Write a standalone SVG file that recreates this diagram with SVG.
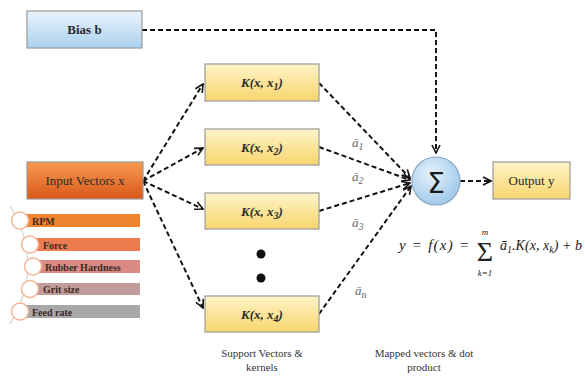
<svg xmlns="http://www.w3.org/2000/svg" width="585" height="376" viewBox="0 0 585 376">
  <defs>
    <linearGradient id="gBlue" x1="0" y1="0" x2="0" y2="1">
      <stop offset="0" stop-color="#eaf4fc"/>
      <stop offset="1" stop-color="#a9d1ef"/>
    </linearGradient>
    <linearGradient id="gOrange" x1="0" y1="0" x2="0" y2="1">
      <stop offset="0" stop-color="#f79a4f"/>
      <stop offset="1" stop-color="#d9581a"/>
    </linearGradient>
    <linearGradient id="gYellow" x1="0" y1="0" x2="0" y2="1">
      <stop offset="0" stop-color="#fff4c8"/>
      <stop offset="1" stop-color="#f8d56e"/>
    </linearGradient>
    <radialGradient id="gSum" cx="0.4" cy="0.35" r="0.7">
      <stop offset="0" stop-color="#e6f2fb"/>
      <stop offset="1" stop-color="#9cc7ea"/>
    </radialGradient>
    <marker id="arr" viewBox="0 0 10 10" refX="9" refY="5" markerWidth="10" markerHeight="10" markerUnits="userSpaceOnUse" orient="auto">
      <path d="M1,1 L9,5 L1,9" fill="none" stroke="#111" stroke-width="1.6"/>
    </marker>
  </defs>
  <style>
    text { font-family: "Liberation Serif", Tinos, "Times New Roman", "DejaVu Serif", "Noto Serif", serif; }
    .box { stroke: #9a9a9a; stroke-width: 1.2; }
    .lbl { font-size: 13px; fill: #2a2a2a; }
    .kern { font-size: 13px; font-weight: bold; font-style: italic; fill: #2a2a2a; }
    .bar { font-size: 10px; font-weight: bold; fill: #3b2a1f; }
    .dash { fill: none; stroke: #111; stroke-width: 2; stroke-dasharray: 5 3; marker-end: url(#arr); }
    .alpha { font-size: 13px; font-style: italic; fill: #666; }
    .math { font-style: italic; fill: #222; }
    .cap { font-size: 11px; fill: #333; }
    .dot { stroke: #c9c9c9; stroke-width: 1; }
    .ring { fill: #fff; stroke: #f2b596; stroke-width: 1.5; }
  </style>

  <!-- connectors -->
  <g id="connectors">
    <path class="dash" d="M142,30 H436 V153"/>
    <path class="dash" d="M143,181 L203,84"/>
    <path class="dash" d="M143,181 L203,148"/>
    <path class="dash" d="M143,181 L203,209"/>
    <path class="dash" d="M143,181 L203,308"/>
    <path class="dash" d="M319,83 L410,178"/>
    <path class="dash" d="M319,147 L410,180"/>
    <path class="dash" d="M319,211 L410,183"/>
    <path class="dash" d="M319,314 L411,186"/>
    <path class="dash" d="M460,181 L491,181"/>
  </g>

  <!-- weight labels -->
  <g id="weights">
    <text class="alpha" x="352" y="147">ā<tspan font-size="10" dy="3">1</tspan></text>
    <text class="alpha" x="352" y="181">ā<tspan font-size="10" dy="3">2</tspan></text>
    <text class="alpha" x="352" y="227">ā<tspan font-size="10" dy="3">3</tspan></text>
    <text class="alpha" x="355" y="295">ā<tspan font-size="10" font-style="normal" dy="3">n</tspan></text>
  </g>

  <g id="bias">
    <rect class="box" x="27" y="11" width="115" height="37" fill="url(#gBlue)"/>
    <text class="lbl" x="84.5" y="34" text-anchor="middle" font-weight="bold" fill="#1f2a3a">Bias b</text>
  </g>

  <g id="input">
    <rect class="box" x="27" y="162" width="116" height="37" fill="url(#gOrange)"/>
    <text class="lbl" x="85" y="185" text-anchor="middle" fill="#3a2010">Input Vectors x</text>
  </g>

  <g id="features">
    <path d="M10,206 Q46,265 10,324" fill="none" class="dot"/>
    <rect x="20" y="214" width="120" height="13" fill="#f0832e"/>
    <rect x="30" y="238" width="110" height="13" fill="#ec7b50"/>
    <rect x="33" y="260" width="107" height="13" fill="#d98a84"/>
    <rect x="30" y="283" width="110" height="12" fill="#c29b9b"/>
    <rect x="20" y="305" width="120" height="13" fill="#a8a8a8"/>
    <circle class="ring" cx="20" cy="220.5" r="8.5"/>
    <circle class="ring" cx="30" cy="244.5" r="8.5"/>
    <circle class="ring" cx="33" cy="266.5" r="8.5"/>
    <circle class="ring" cx="30" cy="289" r="8.5"/>
    <circle class="ring" cx="20" cy="311.5" r="8.5"/>
    <text class="bar" x="32" y="224.5">RPM</text>
    <text class="bar" x="43" y="248.5">Force</text>
    <text class="bar" x="45" y="270.5">Rubber Hardness</text>
    <text class="bar" x="43" y="292.5">Grit size</text>
    <text class="bar" x="32" y="315.5">Feed rate</text>
  </g>

  <g id="k1">
    <rect class="box" x="205" y="64" width="114" height="37" fill="url(#gYellow)"/>
    <text class="kern" x="262" y="87" text-anchor="middle">K(x, x<tspan font-size="10" dy="3">1</tspan><tspan dy="-3">)</tspan></text>
  </g>
  <g id="k2">
    <rect class="box" x="205" y="129" width="114" height="36" fill="url(#gYellow)"/>
    <text class="kern" x="262" y="152" text-anchor="middle">K(x, x<tspan font-size="10" dy="3">2</tspan><tspan dy="-3">)</tspan></text>
  </g>
  <g id="k3">
    <rect class="box" x="205" y="193" width="114" height="36" fill="url(#gYellow)"/>
    <text class="kern" x="262" y="216" text-anchor="middle">K(x, x<tspan font-size="10" dy="3">3</tspan><tspan dy="-3">)</tspan></text>
  </g>
  <g id="ellipsis">
    <circle cx="261" cy="254" r="4.5" fill="#111"/>
    <circle cx="261" cy="278" r="4.5" fill="#111"/>
  </g>
  <g id="k4">
    <rect class="box" x="205" y="296" width="114" height="36" fill="url(#gYellow)"/>
    <text class="kern" x="262" y="319" text-anchor="middle">K(x, x<tspan font-size="10" dy="3">4</tspan><tspan dy="-3">)</tspan></text>
  </g>

  <g id="sum">
    <circle cx="436" cy="181" r="24" fill="url(#gSum)" stroke="#8aa9c4" stroke-width="1.2"/>
    <text x="436" y="193" text-anchor="middle" style="font-family: 'DejaVu Sans', sans-serif" font-size="28" fill="#1a1a1a">Σ</text>
  </g>

  <g id="output">
    <rect class="box" x="493" y="162" width="77" height="37" fill="url(#gYellow)"/>
    <text class="lbl" x="531.5" y="185" text-anchor="middle">Output y</text>
  </g>

  <g id="formula">
    <text class="math" x="399" y="250" font-size="15" textLength="70">y = f(x) =</text>
    <text x="485" y="261" text-anchor="middle" font-size="28" fill="#222">Σ</text>
    <text class="math" x="485" y="235" text-anchor="middle" font-size="9">m</text>
    <text class="math" x="485" y="276" text-anchor="middle" font-size="9">k=1</text>
    <text class="math" x="500" y="250" font-size="14" textLength="82" lengthAdjust="spacingAndGlyphs">ā<tspan font-size="10" dy="3">1</tspan><tspan dy="-3">.K(x, x</tspan><tspan font-size="10" dy="3">k</tspan><tspan dy="-3">) + b</tspan></text>
  </g>

  <g id="captions">
    <text class="cap" x="262" y="357" text-anchor="middle">Support Vectors &amp;</text>
    <text class="cap" x="262" y="371" text-anchor="middle">kernels</text>
    <text class="cap" x="424" y="357" text-anchor="middle">Mapped vectors &amp; dot</text>
    <text class="cap" x="424" y="371" text-anchor="middle">product</text>
  </g>
</svg>
